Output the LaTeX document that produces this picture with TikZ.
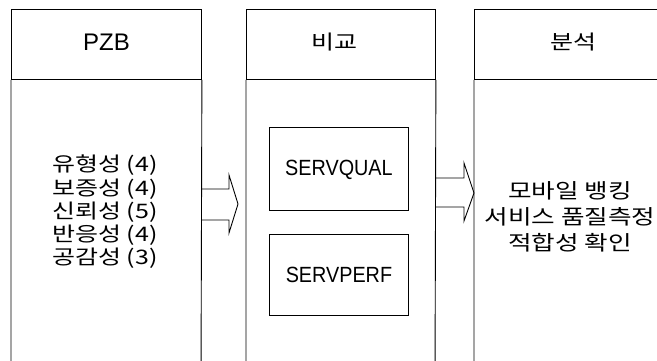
\documentclass[tikz,border=0pt]{standalone}
\usepackage{fontspec}
\setmainfont{Liberation Sans}
\newfontfamily\narrowsans[FakeStretch=0.9]{Liberation Sans}
\newfontfamily\kr[FakeStretch=1.25]{Noto Sans CJK KR}
\begin{document}
\begin{tikzpicture}[x=1pt,y=-1pt,
  line width=0.9pt,
  hdr/.style={draw, minimum width=190pt, minimum height=70pt, inner sep=0pt, anchor=north west},
  inbox/.style={draw, minimum width=139pt, inner sep=0pt, anchor=north west},
  lbl/.style={inner sep=0pt, font=\narrowsans\fontsize{22}{26}\selectfont},
  hdrlbl/.style={inner sep=0pt, font=\kr\fontsize{20}{24}\selectfont},
  krlist/.style={inner sep=0pt, align=left, font=\kr\fontsize{20}{23.3}\selectfont},
  krtext/.style={inner sep=0pt, align=center, font=\kr\fontsize{20.5}{26}\selectfont},
  blockarrow/.style={draw, line join=miter}]
\useasboundingbox (0,0) rectangle (657,361);
\clip (0,0) rectangle (657,361);
% headers
\node[hdr] (h1) at (11,9) {};
\node[hdr, minimum width=189pt] (h2) at (246,9) {};
\node[hdr] (h3) at (474,9) {};
\node[inner sep=0pt, font=\fontsize{24}{28}\selectfont] (t1) at ([yshift=2pt]h1.center) {PZB};
\node[hdrlbl] (t2) at ([xshift=-6pt,yshift=2pt]h2.center) {비교};
\node[hdrlbl] (t3) at ([xshift=4pt,yshift=2pt]h3.center) {분석};
% column bodies (open at the bottom)
\coordinate (b1l) at (11,380);
\coordinate (b1r) at (201,380);
\coordinate (b2l) at (246,380);
\coordinate (b2r) at (435,380);
\coordinate (b3l) at (474,380);
\coordinate (b3r) at (664,380);
\draw (h1.south west) -- (b1l) (h1.south east) -- (b1r);
\draw (h2.south west) -- (b2l) (h2.south east) -- (b2r);
\draw (h3.south west) -- (b3l) (h3.south east) -- (b3r);
% left list
\node[krlist] (list) at (105,212) {유형성 (4)\\보증성 (4)\\신뢰성 (5)\\반응성 (4)\\공감성 (3)};
% middle boxes
\node[inbox, minimum height=83pt] (sq) at (269,127) {};
\node[lbl] (sqt) at ([yshift=-1pt]sq.center) {SERVQUAL};
\node[inbox, minimum height=81pt] (sp) at (269,234) {};
\node[lbl] (spt) at (sp.center) {SERVPERF};
% right text
\node[krtext] (res) at (570,217) {모바일 뱅킹\\서비스 품질측정\\적합성 확인};
% block arrows
\coordinate (a1) at (201,189);
\coordinate (a2) at (201,220);
\draw[blockarrow] (a1) -- (229,189) -- (229,175) -- (238,204) -- (229,233) -- (229,220) -- (a2);
\coordinate (c1) at (435,178);
\coordinate (c2) at (435,207);
\draw[blockarrow] (c1) -- (464,178) -- (464,163) -- (474,193) -- (464,221) -- (464,207) -- (c2);
\end{tikzpicture}
\end{document}
